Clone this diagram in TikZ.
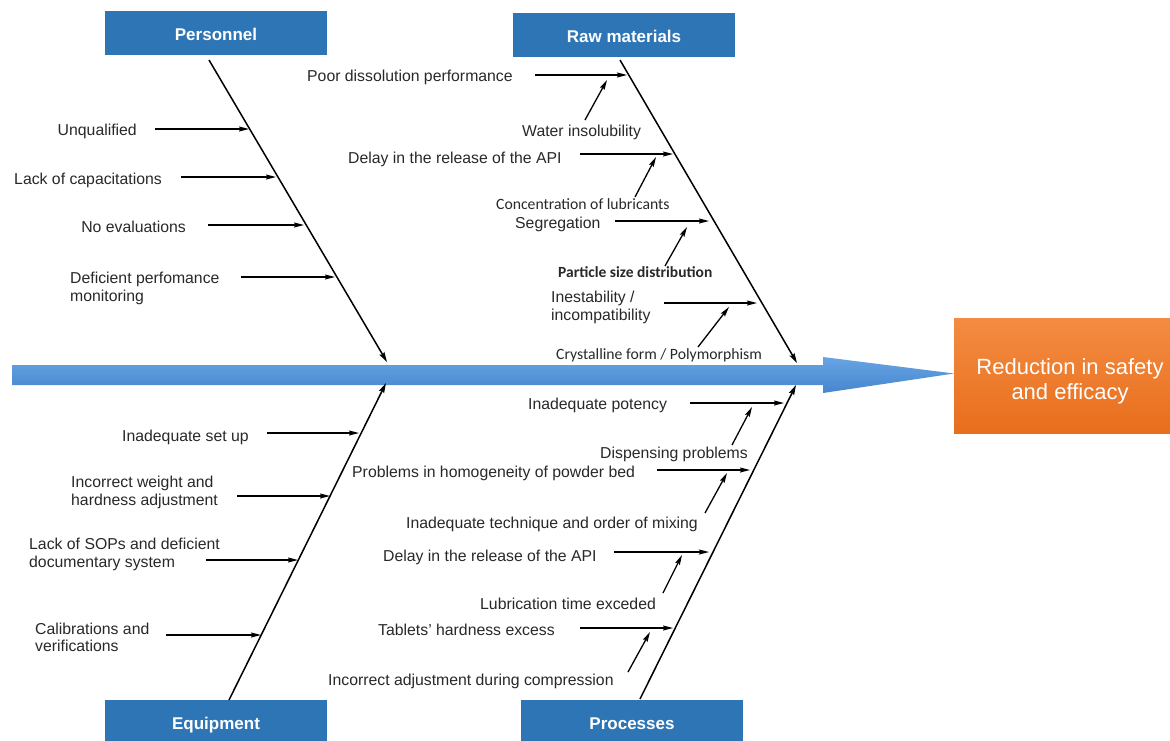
\documentclass[tikz,border=0pt]{standalone}
\usepackage{fontspec}
\setmainfont{Liberation Sans}
\newfontfamily\calfont{Carlito}
\usetikzlibrary{arrows.meta}
\definecolor{hdrblue}{RGB}{46,117,182}
\definecolor{txt}{RGB}{40,40,40}
\definecolor{arrtop}{RGB}{104,164,228}
\definecolor{arrbot}{RGB}{70,134,206}
\definecolor{orgtop}{RGB}{243,140,66}
\definecolor{orgbot}{RGB}{232,110,28}
\begin{document}
\begin{tikzpicture}[x=1pt,y=-1pt,
  hdr/.style={fill=hdrblue, text=white, font=\bfseries\fontsize{17}{20}\selectfont, minimum width=222pt, minimum height=44pt, inner sep=0, text height=15pt, text depth=0pt},
  lbl/.style={text=txt, font=\fontsize{15.8}{17.5}\selectfont, inner sep=0, align=left, yshift=-3.5pt},
  cal/.style={text=txt, font=\calfont\fontsize{15.7}{18}\selectfont, inner sep=0, yshift=-3.5pt},
  calb/.style={cal, font=\calfont\bfseries\fontsize{15.5}{18}\selectfont},
  bone/.style={line width=1.5pt, -{Stealth[length=10pt,width=5.5pt,inset=1.5pt]}},
  br/.style={line width=1.3pt, -{Stealth[length=10pt,width=5pt,inset=1.5pt]}},
  effect/.style={top color=orgtop, bottom color=orgbot, minimum width=216pt, minimum height=115pt, inner sep=0},
  efftext/.style={text=white, font=\fontsize{22}{25}\selectfont, align=center, inner sep=0}
]
\useasboundingbox (0,0) rectangle (1170,740);

% main arrow
\shade[top color=arrtop, bottom color=arrbot]
  (12,365) -- (823,365) -- (823,357) -- (954,373.5) -- (823,393) -- (823,385) -- (12,385) -- cycle;

% effect
\node[effect] (eff) at (1062,375.5) {};
\node[efftext] (efft) at (1070,381) {Reduction in safety\\and efficacy};

% headers
\node[hdr] (pers) at (216,33) {Personnel};
\node[hdr] (raw) at (624,35) {Raw materials};
\node[hdr] (equip) at (216,722) {Equipment};
\node[hdr] (proc) at (632,722) {Processes};

% bones
\coordinate (pers0) at (209,60);  \coordinate (pers1) at (387,362);
\coordinate (raw0) at (620,60);   \coordinate (raw1) at (797,363);
\coordinate (eq0) at (229,700);   \coordinate (eq1) at (386,383);
\coordinate (pr0) at (640,699);   \coordinate (pr1) at (796,385);
\draw[bone] (pers0) -- (pers1);
\draw[bone] (raw0) -- (raw1);
\draw[bone] (eq0) -- (eq1);
\draw[bone] (pr0) -- (pr1);

% ---------- Personnel ----------
\node[lbl, anchor=mid east] (p1) at (137,129) {Unqualified};
\node[lbl, anchor=mid east] (p2) at (162,178) {Lack of capacitations};
\node[lbl, anchor=mid east] (p3) at (186,226) {No evaluations};
\node[lbl, anchor=west] (p4) at (70,285) {Deficient perfomance\\monitoring};
\coordinate (p1a) at (155,129); \coordinate (p1b) at (249,129);
\coordinate (p2a) at (181,177); \coordinate (p2b) at (276,177);
\coordinate (p3a) at (208,225); \coordinate (p3b) at (304,225);
\coordinate (p4a) at (241,277); \coordinate (p4b) at (335,277);
\draw[br] (p1a) -- (p1b);
\draw[br] (p2a) -- (p2b);
\draw[br] (p3a) -- (p3b);
\draw[br] (p4a) -- (p4b);

% ---------- Raw materials ----------
\node[lbl, anchor=mid west] (r1) at (307,75) {Poor dissolution performance};
\node[lbl, anchor=mid west] (r1s) at (522,130) {Water insolubility};
\node[lbl, anchor=mid west] (r2) at (348,157) {Delay in the release of the API};
\node[cal, anchor=mid west] (r2s) at (496,203) {Concentration of lubricants};
\node[lbl, anchor=mid west] (r3) at (515,222) {Segregation};
\node[calb, anchor=mid west] (r3s) at (558,271) {Particle size distribution};
\node[lbl, anchor=west] (r4) at (551,304) {Inestability /\\incompatibility};
\node[cal, anchor=mid west] (r4s) at (556,353) {Crystalline form / Polymorphism};
\coordinate (r1a) at (535,75);  \coordinate (r1b) at (627,75);
\coordinate (r1sa) at (585,120); \coordinate (r1sb) at (607,80);
\coordinate (r2a) at (580,154); \coordinate (r2b) at (673,154);
\coordinate (r2sa) at (635,197); \coordinate (r2sb) at (656,157);
\coordinate (r3a) at (615,221); \coordinate (r3b) at (709,221);
\coordinate (r3sa) at (665,266); \coordinate (r3sb) at (687,227);
\coordinate (r4a) at (664,303); \coordinate (r4b) at (757,303);
\coordinate (r4sa) at (698,347); \coordinate (r4sb) at (729,307);
\draw[br] (r1a) -- (r1b);
\draw[br] (r1sa) -- (r1sb);
\draw[br] (r2a) -- (r2b);
\draw[br] (r2sa) -- (r2sb);
\draw[br] (r3a) -- (r3b);
\draw[br] (r3sa) -- (r3sb);
\draw[br] (r4a) -- (r4b);
\draw[br] (r4sa) -- (r4sb);

% ---------- Equipment ----------
\node[lbl, anchor=mid west] (e1) at (122,435) {Inadequate set up};
\node[lbl, anchor=west] (e2) at (71,489) {Incorrect weight and\\hardness adjustment};
\node[lbl, anchor=west] (e3) at (29,551) {Lack of SOPs and deficient\\documentary system};
\node[lbl, anchor=west] (e4) at (35,634) {Calibrations and\\verifications};
\coordinate (e1a) at (267,433); \coordinate (e1b) at (359,433);
\coordinate (e2a) at (237,496); \coordinate (e2b) at (330,496);
\coordinate (e3a) at (206,560); \coordinate (e3b) at (298,560);
\coordinate (e4a) at (166,635); \coordinate (e4b) at (261,635);
\draw[br] (e1a) -- (e1b);
\draw[br] (e2a) -- (e2b);
\draw[br] (e3a) -- (e3b);
\draw[br] (e4a) -- (e4b);

% ---------- Processes ----------
\node[lbl, anchor=mid west] (q1) at (528,403) {Inadequate potency};
\node[lbl, anchor=mid west] (q1s) at (600,452) {Dispensing problems};
\node[lbl, anchor=mid west] (q2) at (352,471) {Problems in homogeneity of powder bed};
\node[lbl, anchor=mid west] (q2s) at (406,522) {Inadequate technique and order of mixing};
\node[lbl, anchor=mid west] (q3) at (383,555) {Delay in the release of the API};
\node[lbl, anchor=mid west] (q3s) at (480,603) {Lubrication time exceded};
\node[lbl, anchor=mid west] (q4) at (378,629) {Tablets' hardness excess};
\node[lbl, anchor=mid west] (q4s) at (328,679) {Incorrect adjustment during compression};
\coordinate (q1a) at (690,403); \coordinate (q1b) at (784,403);
\coordinate (q1sa) at (732,445); \coordinate (q1sb) at (752,407);
\coordinate (q2a) at (657,470); \coordinate (q2b) at (750,470);
\coordinate (q2sa) at (705,513); \coordinate (q2sb) at (727,473);
\coordinate (q3a) at (614,552); \coordinate (q3b) at (709,552);
\coordinate (q3sa) at (663,593); \coordinate (q3sb) at (682,555);
\coordinate (q4a) at (580,628); \coordinate (q4b) at (673,628);
\coordinate (q4sa) at (628,672); \coordinate (q4sb) at (650,632);
\draw[br] (q1a) -- (q1b);
\draw[br] (q1sa) -- (q1sb);
\draw[br] (q2a) -- (q2b);
\draw[br] (q2sa) -- (q2sb);
\draw[br] (q3a) -- (q3b);
\draw[br] (q3sa) -- (q3sb);
\draw[br] (q4a) -- (q4b);
\draw[br] (q4sa) -- (q4sb);
\end{tikzpicture}
\end{document}
